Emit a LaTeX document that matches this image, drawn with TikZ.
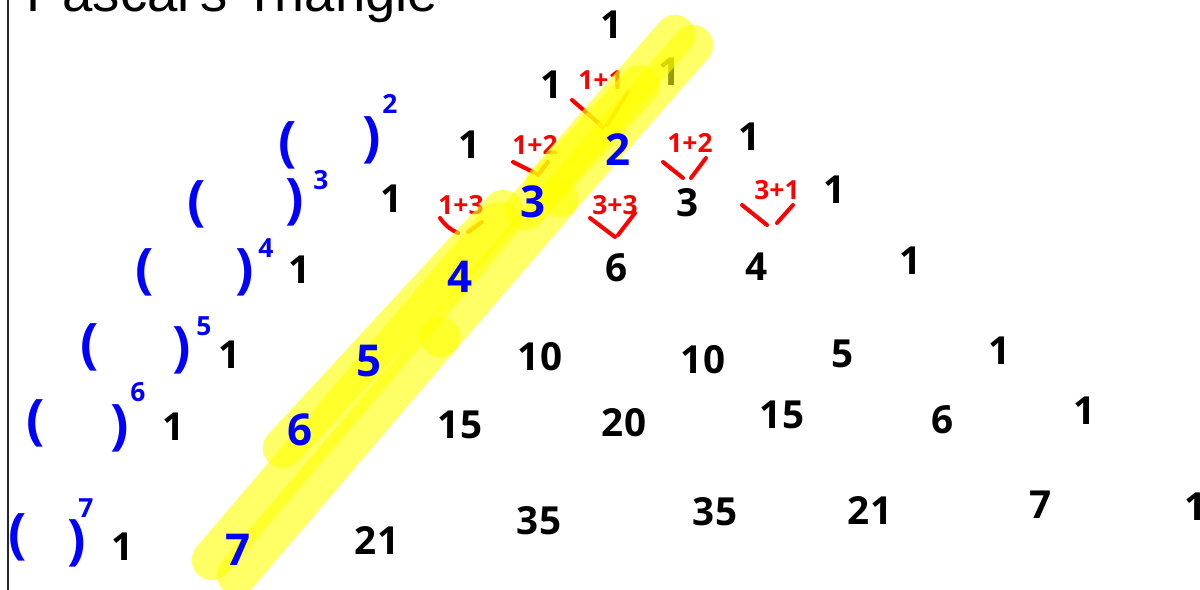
\documentclass[tikz,border=0pt]{standalone}
\usepackage{fontspec}
\setmainfont{Liberation Sans}
\newfontfamily\hand{Open Sans}
\definecolor{penblue}{RGB}{0,0,255}
\definecolor{penred}{RGB}{255,0,0}
\definecolor{hl}{RGB}{255,255,0}
\begin{document}
\begin{tikzpicture}[x=0.02cm,y=-0.02cm,
  num/.style={font=\hand\bfseries\fontsize{22}{22}\selectfont,inner sep=0pt},
  bnum/.style={num,text=penblue,font=\hand\bfseries\fontsize{25}{25}\selectfont},
  par/.style={font=\hand\bfseries\fontsize{31}{31}\selectfont,inner sep=0pt,text=penblue},
  sup/.style={font=\hand\bfseries\fontsize{15}{15}\selectfont,inner sep=0pt,text=penblue},
  lab/.style={font=\hand\bfseries\fontsize{15}{15}\selectfont,inner sep=0pt,text=penred},
  vstroke/.style={draw=penred,line width=2.3pt,line cap=round},
  hilite/.style={draw=hl,opacity=0.6,line width=23pt,line cap=round}]
\useasboundingbox (0,0) rectangle (1200,589);
\clip (0,0) rectangle (1200,589);
% frame line and title
\draw[line width=1.1pt,black!85] (8,-5) -- (8,600);
\node[anchor=base west,inner sep=0pt,font=\fontsize{31}{31}\selectfont] (title) at (26,11) {Pascal's Triangle};
% black numbers
\node[num] (r0a) at (612,25) {1};
\node[num] (r1a) at (552,85) {1};
\node[num] (r1b) at (670,72) {1};
\node[num] (r2a) at (470,145) {1};
\node[num] (r2c) at (750,137) {1};
\node[num] (r3a) at (392,199) {1};
\node[num] (r3c) at (688,203) {3};
\node[num] (r3d) at (835,190) {1};
\node[num] (r4a) at (300,270) {1};
\node[num] (r4c) at (617,268) {6};
\node[num] (r4d) at (757,267) {4};
\node[num] (r4e) at (911,261) {1};
\node[num] (r5a) at (230,355) {1};
\node[num] (r5c) at (540,357) {10};
\node[num] (r5d) at (703,360) {10};
\node[num] (r5e) at (843,354) {5};
\node[num] (r5f) at (1000,351) {1};
\node[num] (r6a) at (174,427) {1};
\node[num] (r6c) at (460,425) {15};
\node[num] (r6d) at (624,423) {20};
\node[num] (r6e) at (782,415) {15};
\node[num] (r6f) at (943,420) {6};
\node[num] (r6g) at (1085,411) {1};
\node[num] (r7a) at (123,547) {1};
\node[num] (r7c) at (377,540) {21};
\node[num] (r7d) at (539,521) {35};
\node[num] (r7e) at (715,512) {35};
\node[num] (r7f) at (870,510) {21};
\node[num] (r7g) at (1041,505) {7};
\node[num] (r7h) at (1196,507) {1};
% red sums
\node[lab] (l11) at (601,80) {1+1};
\node[lab] (l12a) at (535,145) {1+2};
\node[lab] (l12b) at (690,143) {1+2};
\node[lab] (l13) at (461,205) {1+3};
\node[lab] (l33) at (615,205) {3+3};
\node[lab] (l31) at (777,190) {3+1};
\draw[vstroke] (572,100) -- (603,127); \draw[vstroke] (607,125) -- (628,92);
\draw[vstroke] (513,162) -- (535,173); \draw[vstroke] (538,175) -- (548,162);
\draw[vstroke] (663,162) -- (683,178); \draw[vstroke] (691,178) -- (706,158);
\draw[vstroke] (440,218) to[bend right=15] (458,233); \draw[vstroke] (468,232) -- (482,222);
\draw[vstroke] (590,218) -- (615,237); \draw[vstroke] (618,235) -- (635,213);
\draw[vstroke] (742,205) -- (767,225); \draw[vstroke] (777,223) -- (793,205);
% highlighter
\draw[hilite] (693,45) -- (560,197);
\draw[hilite] (675,35) -- (545,185);
\draw[hilite] (640,85) -- (525,210);
\draw[hilite] (503,210) -- (283,448);
\draw[hilite] (558,200) -- (440,337);
\draw[hilite] (440,337) -- (237,575);
\draw[hilite] (500,222) -- (212,560);
% blue diagonal
\node[bnum] (r2b) at (618,150) {2};
\node[bnum] (r3b) at (533,202) {3};
\node[bnum] (r4b) at (460,277) {4};
\node[bnum] (r5b) at (369,361) {5};
\node[bnum] (r6b) at (300,430) {6};
\node[bnum] (r7b) at (238,550) {7};
% binomial powers
\node[par] (p2l) at (288,145) {(};
\node[par] (p2r) at (372,140) {)};
\node[sup] (s2) at (390,104) {2};
\node[par] (p3l) at (197,204) {(};
\node[par] (p3r) at (295,202) {)};
\node[sup] (s3) at (321,180) {3};
\node[par] (p4l) at (145,272) {(};
\node[par] (p4r) at (245,272) {)};
\node[sup] (s4) at (266,248) {4};
\node[par] (p5l) at (90,347) {(};
\node[par] (p5r) at (182,350) {)};
\node[sup] (s5) at (204,326) {5};
\node[par] (p6l) at (36,423) {(};
\node[par] (p6r) at (120,428) {)};
\node[sup] (s6) at (138,392) {6};
\node[par] (p7l) at (18,537) {(};
\node[par] (p7r) at (77,543) {)};
\node[sup] (s7) at (86,508) {7};
\end{tikzpicture}
\end{document}
